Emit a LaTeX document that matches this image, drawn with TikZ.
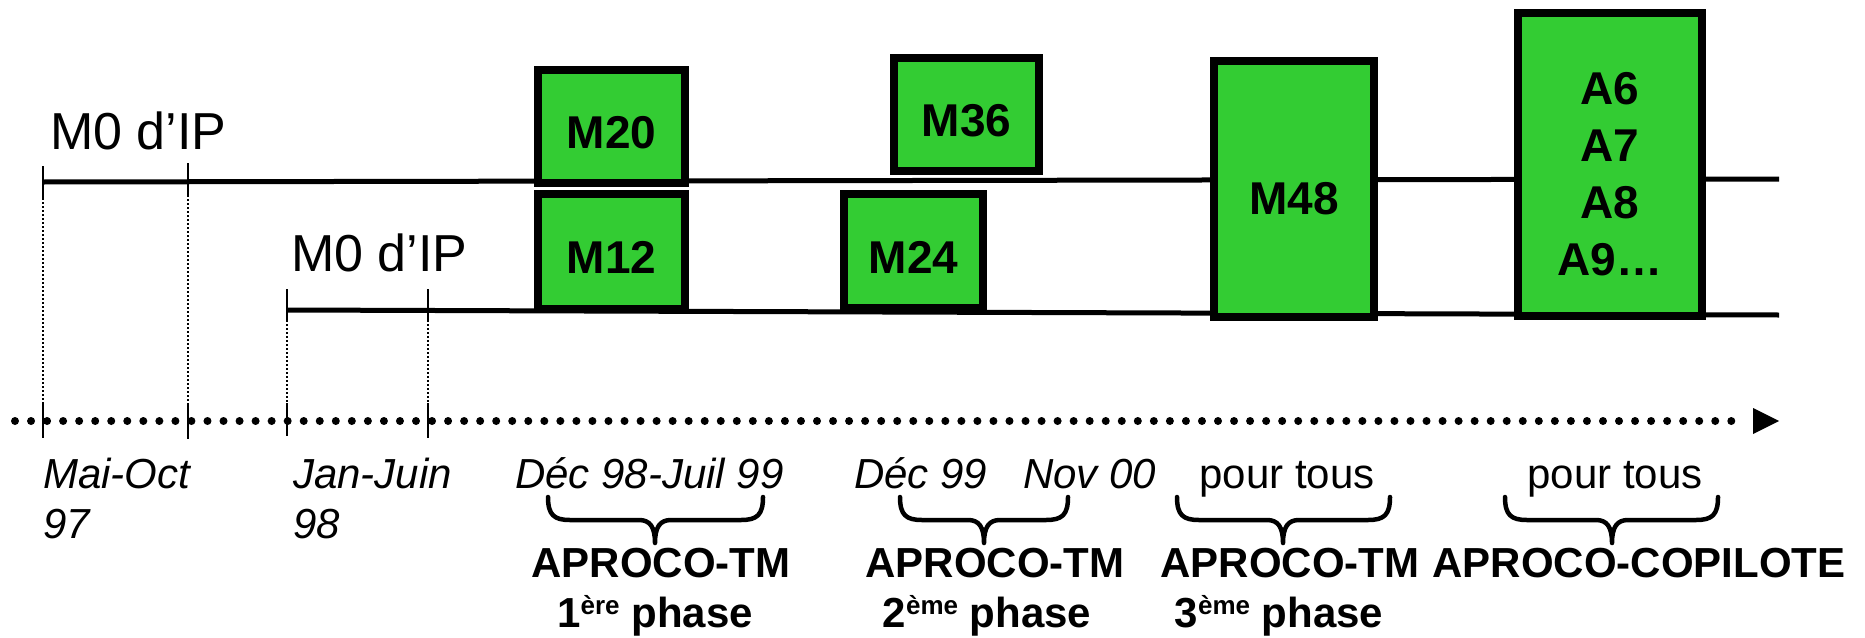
\documentclass[tikz,border=0pt]{standalone}
\usepackage{fontspec}
\setmainfont{Liberation Sans}
\definecolor{boxgreen}{RGB}{51,204,51}
\tikzset{
  box/.style={draw=black, line width=8pt, fill=boxgreen, inner sep=0pt},
  boxlabel/.style={font=\fontsize{46}{57}\selectfont\bfseries, align=center, inner sep=0pt},
  track/.style={line width=5pt},
  tickmark/.style={line width=2pt},
  guide/.style={line width=1.2pt, dash pattern=on 2pt off 2pt},
  iplabel/.style={font=\fontsize{52}{60}\selectfont, inner sep=0pt, anchor=base west},
  datelabel/.style={font=\fontsize{42}{50}\selectfont\itshape, inner sep=0pt, anchor=base west},
  plainlabel/.style={font=\fontsize{42}{50}\selectfont, inner sep=0pt, anchor=base},
  projlabel/.style={font=\fontsize{42}{50}\selectfont\bfseries, inner sep=0pt, anchor=base},
  bracestyle/.style={line width=4.5pt, line cap=round, line join=round},
}
\newcommand{\supx}[1]{\raisebox{13pt}{\fontsize{26}{26}\selectfont #1}}
\begin{document}
\begin{tikzpicture}[x=1pt,y=-1pt]
\useasboundingbox (0,0) rectangle (1865,637);

% timeline tracks
\coordinate (topL) at (43,182);
\coordinate (topR) at (1779,179);
\coordinate (lowL) at (287,310);
\coordinate (lowR) at (1779,315);
\draw[track] (topL) -- (topR);
\draw[track] (lowL) -- (lowR);

% ticks on tracks
\coordinate (k1a) at (43,166);  \coordinate (k1b) at (43,198);
\coordinate (k2a) at (188,163); \coordinate (k2b) at (188,195);
\coordinate (k3a) at (287,289); \coordinate (k3b) at (287,320);
\coordinate (k4a) at (428,289); \coordinate (k4b) at (428,320);
\draw[tickmark] (k1a) -- (k1b);
\draw[tickmark] (k2a) -- (k2b);
\draw[tickmark] (k3a) -- (k3b);
\draw[tickmark] (k4a) -- (k4b);

% axis ticks
\coordinate (a1a) at (43,403);  \coordinate (a1b) at (43,438);
\coordinate (a2a) at (188,405); \coordinate (a2b) at (188,439);
\coordinate (a3a) at (287,403); \coordinate (a3b) at (287,436);
\coordinate (a4a) at (428,403); \coordinate (a4b) at (428,438);
\draw[tickmark] (a1a) -- (a1b);
\draw[tickmark] (a2a) -- (a2b);
\draw[tickmark] (a3a) -- (a3b);
\draw[tickmark] (a4a) -- (a4b);

% dotted guides
\draw[guide] (k1b) -- (a1a);
\draw[guide] (k2b) -- (a2a);
\draw[guide] (k3b) -- (a3a);
\draw[guide] (k4b) -- (a4a);

% dotted axis with arrow
\coordinate (axS) at (15,421);
\coordinate (axE) at (1747,421);
\draw[line width=8pt, line cap=round, dash pattern=on 0pt off 16.04pt] (axS) -- (axE);
\coordinate (arT) at (1779,421);
\fill (1753,408) -- (arT) -- (1753,434) -- cycle;

% boxes
\node[box, minimum width=147pt, minimum height=113pt] (m20) at (611.5,126.5) {};
\node[box, minimum width=147pt, minimum height=115pt] (m12) at (611.5,251.5) {};
\node[box, minimum width=145pt, minimum height=113pt] (m36) at (966.5,114.5) {};
\node[box, minimum width=139pt, minimum height=114pt] (m24) at (913.5,251) {};
\node[box, minimum width=160pt, minimum height=256pt] (m48) at (1294,189) {};
\node[box, minimum width=184pt, minimum height=303pt] (aa) at (1610,164.5) {};

\node[boxlabel, yshift=-6pt] (l20) at (m20.center) {M20};
\node[boxlabel, yshift=-6pt] (l12) at (m12.center) {M12};
\node[boxlabel, yshift=-6pt] (l36) at (m36.center) {M36};
\node[boxlabel, yshift=-6pt] (l24) at (m24.center) {M24};
\node[boxlabel, yshift=-10pt] (l48) at (m48.center) {M48};
\node[boxlabel, yshift=-10pt] (laa) at (aa.center) {A6\\A7\\A8\\A9…};

% M0 labels
\node[iplabel] (ip1) at (50,149) {M0 d’IP};
\node[iplabel] (ip2) at (291,271) {M0 d’IP};

% dates
\node[datelabel] (d1) at (43,488) {Mai-Oct};
\node[datelabel] (d1b) at (43,538) {97};
\node[datelabel] (d2) at (293,488) {Jan-Juin};
\node[datelabel] (d2b) at (293,538) {98};
\node[datelabel] (d3) at (515,488) {Déc 98-Juil 99};
\node[datelabel] (d4) at (854,488) {Déc 99};
\node[datelabel] (d5) at (1023,488) {Nov 00};
\node[plainlabel] (d6) at (1287,488) {pour tous};
\node[plainlabel] (d7) at (1615,488) {pour tous};

% braces
\foreach \a/\c/\b [count=\i] in {548/655/763, 900/984/1068, 1177/1283/1390, 1505/1612/1718}{
  \draw[bracestyle] (\a,497) .. controls (\a,515) and (\a+6,520) .. (\a+22,520)
    -- (\c-16,520) .. controls (\c-5,520) and (\c,527) .. (\c,543)
    .. controls (\c,527) and (\c+5,520) .. (\c+16,520)
    -- (\b-22,520) .. controls (\b-6,520) and (\b,515) .. (\b,497);
}

% project labels
\node[projlabel] (p1) at (661,577) {APROCO-TM};
\node[projlabel] (p2) at (995,577) {APROCO-TM};
\node[projlabel] (p3) at (1290,577) {APROCO-TM};
\node[projlabel] (p4) at (1639,577) {APROCO-COPILOTE};
\node[projlabel] (q1) at (655,627) {1\supx{ère} phase};
\node[projlabel] (q2) at (987,627) {2\supx{ème} phase};
\node[projlabel] (q3) at (1279,627) {3\supx{ème} phase};
\end{tikzpicture}
\end{document}
